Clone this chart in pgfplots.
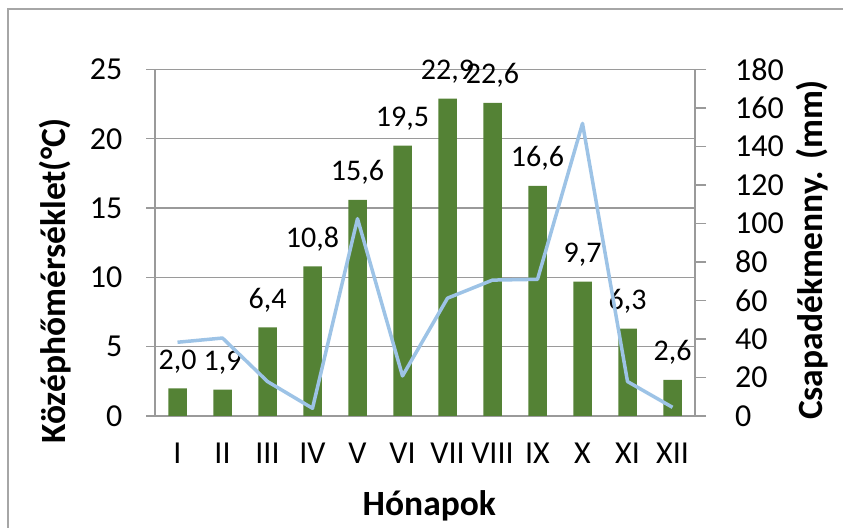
\documentclass[border=0pt]{standalone}
\usepackage{fontspec}
\setmainfont{Carlito}
\usepackage{pgfplots}
\pgfplotsset{compat=1.18}
\definecolor{bargreen}{HTML}{548235}
\definecolor{lineblue}{HTML}{9DC3E6}
\definecolor{gridgray}{HTML}{9A9A9A}
\definecolor{framegray}{HTML}{A6A6A6}
\newcommand{\tickfont}{\fontsize{32bp}{38bp}\selectfont}
\newcommand{\labelfont}{\fontsize{30bp}{36bp}\selectfont}
\newcommand{\titlefont}{\fontsize{35.5bp}{42bp}\selectfont\bfseries}

\pgfplotstableread{
x temp
0 2.0
1 1.9
2 6.4
3 10.8
4 15.6
5 19.5
6 22.9
7 22.6
8 16.6
9 9.7
10 6.3
11 2.6
}\temptable

\pgfplotstableread{
x prec
0 38.3
1 40.5
2 17.9
3 4.0
4 102.5
5 20.8
6 61.2
7 70.6
8 71.0
9 152.0
10 17.9
11 4.5
}\prectable

\begin{document}
\begin{tikzpicture}[x=1bp,y=1bp]
\useasboundingbox (0,0) rectangle (843,528);
\draw[framegray, line width=1.5bp] (8,0) -- (8,519) -- (843,519);
\begin{axis}[
  at={(155bp,112bp)}, anchor=south west,
  scale only axis, width=540bp, height=346.5bp,
  xmin=-0.5, xmax=11.5, ymin=0, ymax=25,
  ytick={0,5,...,25},
  xtick={0,...,11},
  xticklabels={I,II,III,IV,V,VI,VII,VIII,IX,X,XI,XII},
  /pgf/number format/assume math mode=true,
  axis line style={gridgray, line width=1.2bp},
  ymajorgrids, grid style={gridgray, line width=1.2bp},
  tick align=outside,
  ytick pos=left,
  ytick style={gridgray, line width=1.2bp},
  major tick length=9bp,
  xtick style={draw=none},
  ticklabel style={font=\tickfont, text=black},
  yticklabel style={anchor=east, inner sep=0pt, xshift=-23.5bp},
  xticklabel style={anchor=base, inner sep=0pt, yshift=-39bp},
  xlabel={Hónapok},
  xlabel style={font=\titlefont, at={(axis description cs:0.508,-0.26)}, anchor=center},
  ylabel={Középhőmérséklet(°C)},
  ylabel style={font=\titlefont, at={(axis description cs:-0.185,0.39)}, anchor=center},
  ybar, bar width=18.5bp,
  nodes near coords,
  nodes near coords style={font=\labelfont, text=black,
    /pgf/number format/use comma, /pgf/number format/fixed,
    /pgf/number format/fixed zerofill, /pgf/number format/precision=1,
    /pgf/number format/assume math mode=true},
  every node near coord/.append style={anchor=base, inner sep=0pt, yshift=19bp},
]
\addplot[fill=bargreen, draw=none] table[x=x, y=temp] {\temptable};
\end{axis}
\begin{axis}[
  at={(155bp,112bp)}, anchor=south west,
  scale only axis, width=540bp, height=346.5bp,
  xmin=-0.5, xmax=11.5, ymin=0, ymax=180,
  ytick={0,20,...,180},
  hide x axis,
  ytick pos=right,
  yticklabel pos=right,
  /pgf/number format/assume math mode=true,
  axis line style={gridgray, line width=1.2bp},
  tick align=outside,
  ytick style={gridgray, line width=1.2bp},
  major tick length=11bp,
  ticklabel style={font=\tickfont, text=black},
  yticklabel style={anchor=west, inner sep=0pt, xshift=29bp},
  ylabel={Csapadékmenny. (mm)},
  ylabel style={font=\titlefont, at={(axis description cs:1.2167,0.479)}, anchor=center},
]
\addplot[lineblue, line width=3.5bp, line join=round] table[x=x, y=prec] {\prectable};
\end{axis}
\end{tikzpicture}
\end{document}
